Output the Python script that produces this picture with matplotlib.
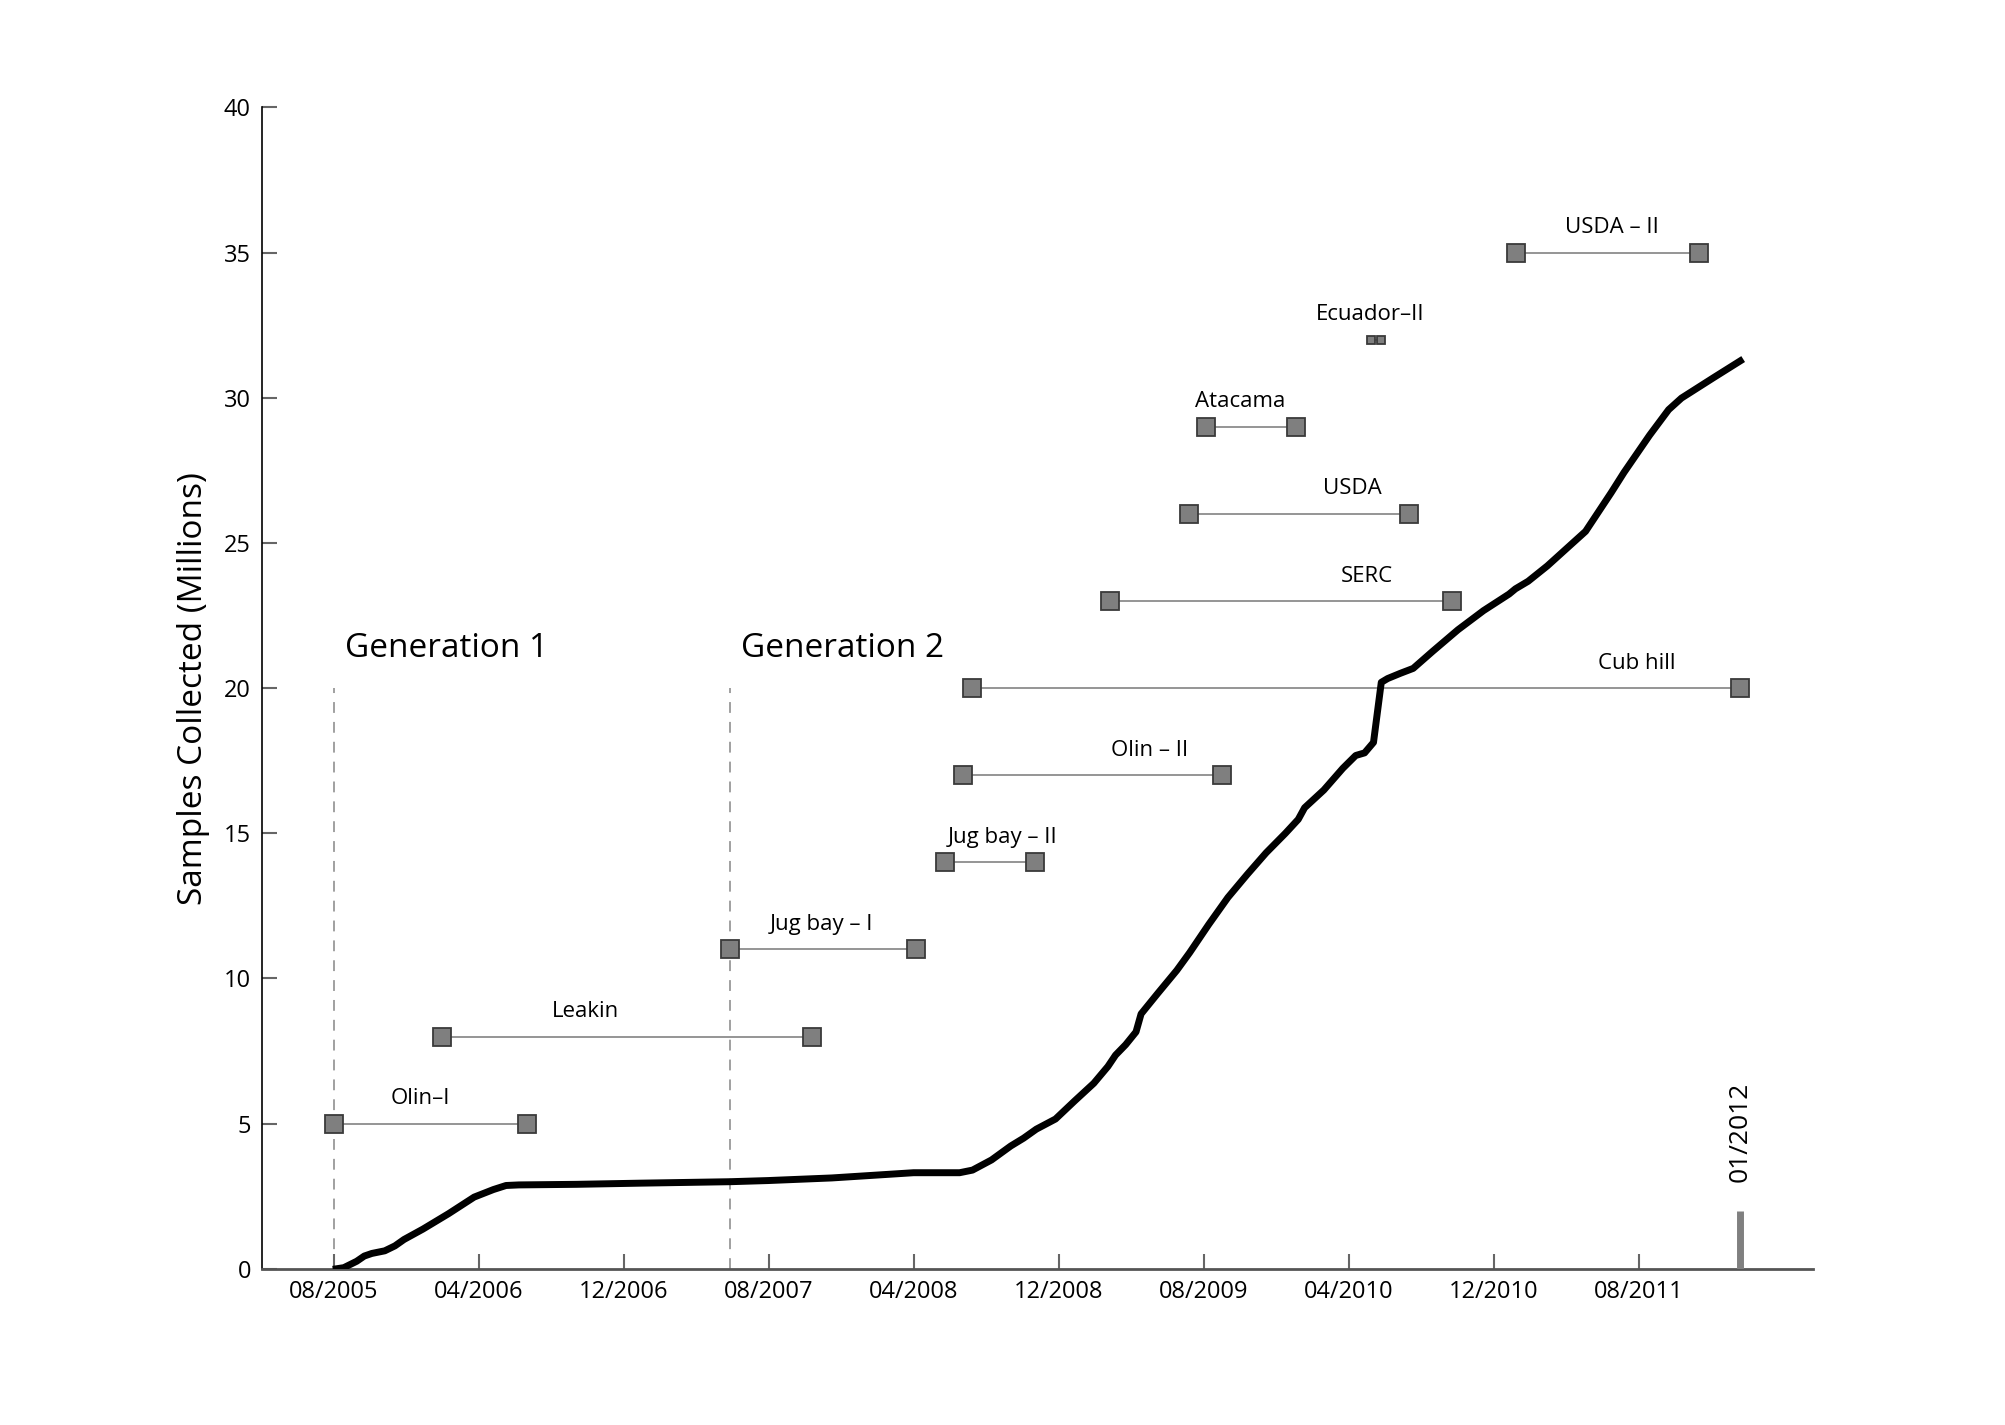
import matplotlib
matplotlib.use('Agg')
import matplotlib.pyplot as plt

plt.rcParams['font.family'] = ['Open Sans', 'DejaVu Sans']

# x is months after 08/2005, y is millions of samples
curve_months = [0.14, 0.56, 1.27, 1.69, 2.11, 2.82, 3.38, 3.88, 4.93, 6.34, 7.75, 8.81,
                9.51, 10.22, 13.39, 16.91, 21.85, 23.96, 27.48, 31.99, 34.53, 35.24,
                36.29, 37.35, 38.06, 38.76, 39.82, 40.87, 41.93, 42.71, 43.13, 43.69,
                44.26, 44.54, 45.45, 46.51, 47.22, 48.27, 49.33, 50.39, 51.44, 52.50,
                53.21, 53.56, 54.62, 55.67, 56.38, 56.87, 57.36, 57.79, 58.14, 58.84,
                59.55, 60.61, 62.02, 63.43, 64.84, 65.19, 65.89, 66.95, 69.06, 70.47,
                71.18, 72.59, 73.64, 74.35, 76.11, 77.59]
curve_samples = [0.0, 0.04, 0.26, 0.44, 0.53, 0.62, 0.79, 1.01, 1.37, 1.90, 2.47, 2.73,
                 2.87, 2.89, 2.91, 2.95, 3.00, 3.04, 3.13, 3.31, 3.31, 3.40,
                 3.75, 4.23, 4.50, 4.81, 5.16, 5.78, 6.39, 6.97, 7.36, 7.72,
                 8.16, 8.78, 9.48, 10.28, 10.89, 11.86, 12.79, 13.58, 14.33, 15.0,
                 15.48, 15.88, 16.49, 17.24, 17.68, 17.77, 18.13, 20.20, 20.33, 20.51,
                 20.68, 21.26, 22.01, 22.67, 23.24, 23.42, 23.68, 24.21, 25.40, 26.73,
                 27.43, 28.71, 29.59, 29.99, 30.69, 31.27]

projects = ['Olin\u2013I', 'Leakin', 'Jug bay \u2013 I', 'Jug bay \u2013 II', 'Olin \u2013 II',
            'Cub hill', 'SERC', 'USDA', 'Atacama', 'Ecuador\u2013II', 'USDA \u2013 II']
project_start = [0.0, 5.99, 21.85, 33.7, 34.7, 35.2, 42.8, 47.2, 48.1, 57.25, 65.2]
project_end = [10.64, 26.36, 32.1, 38.7, 49.0, 77.6, 61.7, 59.3, 53.1, 57.75, 75.3]
project_level = [5, 8, 11, 14, 17, 20, 23, 26, 29, 32, 35]
label_month = [4.8, 13.9, 26.9, 36.9, 45.0, 71.9, 57.0, 56.2, 50.0, 57.2, 70.5]

generation_names = ['Generation 1', 'Generation 2']
generation_start = [0.0, 21.85]

tick_months = [0, 8, 16, 24, 32, 40, 48, 56, 64, 72]
tick_labels = ['08/2005', '04/2006', '12/2006', '08/2007', '04/2008',
               '12/2008', '08/2009', '04/2010', '12/2010', '08/2011']
end_month = 77.6
end_label = '01/2012'

fig = plt.figure(figsize=(20.05, 14.25), dpi=100)
ax = fig.add_axes([0.1307, 0.1096, 0.7735, 0.815])

# project spans
for name, s, e, lvl, lx in zip(projects, project_start, project_end, project_level, label_month):
    small = (e - s) < 1
    ax.plot([s, e], [lvl, lvl], color='#8c8c8c', linewidth=1.3, zorder=2)
    ax.plot([s, e], [lvl, lvl], linestyle='None', marker='s',
            markersize=6 if small else 13, markerfacecolor='#7f7f7f',
            markeredgecolor='#3a3a3a', markeredgewidth=1.3, zorder=3)
    ax.text(lx, lvl + 0.5, name, ha='center', va='bottom', fontsize=16)

# generation boundaries
for name, g in zip(generation_names, generation_start):
    ax.plot([g, g], [0, 20], color='#999999', linestyle=(0, (6, 5)), linewidth=1.3, zorder=1)
    ax.text(g + 0.6, 20.8, name, ha='left', va='bottom', fontsize=24)

ax.plot(curve_months, curve_samples, color='black', linewidth=5, zorder=4,
        solid_joinstyle='round')

# end marker
ax.plot([end_month, end_month], [0, 2], color='#808080', linewidth=5, zorder=4,
        solid_capstyle='butt')
ax.text(end_month, 3.0, end_label, rotation=90, ha='center', va='bottom', fontsize=19)

ax.set_xlim(-3.95, 81.6)
ax.set_ylim(0, 40)
ax.set_xticks(tick_months)
ax.set_xticklabels(tick_labels)
ax.set_yticks(range(0, 41, 5))
ax.tick_params(axis='both', direction='in', length=11, width=1.5, color='#666666',
               labelsize=17, pad=8)
ax.set_ylabel('Samples Collected (Millions)', fontsize=24, labelpad=10)

ax.spines['top'].set_visible(False)
ax.spines['right'].set_visible(False)
ax.spines['left'].set_color('black')
ax.spines['left'].set_linewidth(1.2)
ax.spines['bottom'].set_color('#555555')
ax.spines['bottom'].set_linewidth(2)

fig.savefig('out.png', dpi=100)
plt.close(fig)
